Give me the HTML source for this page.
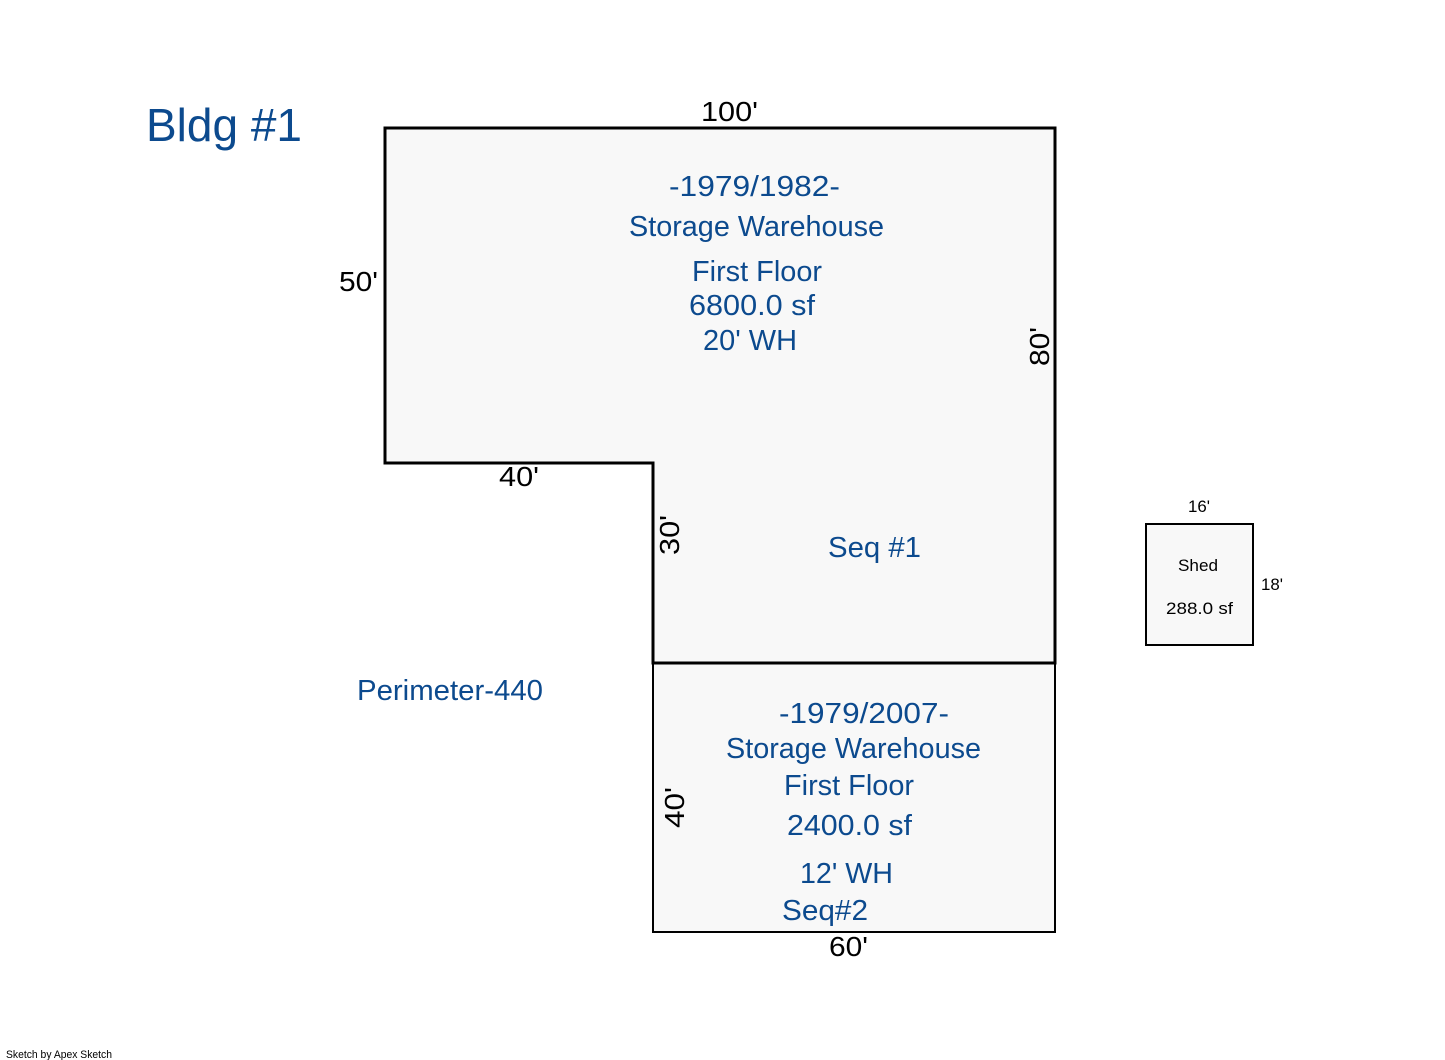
<!DOCTYPE html>
<html>
<head>
<meta charset="utf-8">
<style>
  html,body{margin:0;padding:0;background:#fff;}
  svg{display:block;}
  text{font-family:"Liberation Sans","DejaVu Sans",sans-serif;}
  .b{fill:#0c4a8e;font-size:29px;}
  .k{fill:#000;font-size:28px;}
  .s{fill:#000;font-size:17px;}
</style>
</head>
<body>
<svg width="1445" height="1060" viewBox="0 0 1445 1060" xmlns="http://www.w3.org/2000/svg">
  <rect x="0" y="0" width="1445" height="1060" fill="#fff"/>

  <!-- Main polygon -->
  <path d="M385 128 L1055 128 L1055 663 L653 663 L653 463 L385 463 Z" fill="#f8f8f8" stroke="#000" stroke-width="3" stroke-linejoin="miter"/>
  <!-- Lower rect -->
  <rect x="653" y="663" width="402" height="269" fill="#f8f8f8" stroke="#000" stroke-width="2"/>
  <line x1="653" y1="663" x2="1055" y2="663" stroke="#000" stroke-width="3"/>
  <!-- Shed -->
  <rect x="1146" y="524" width="107" height="121" fill="#f8f8f8" stroke="#000" stroke-width="2"/>

  <!-- Title -->
  <text x="146" y="141" fill="#0c4a8e" font-size="46" textLength="156" lengthAdjust="spacingAndGlyphs">Bldg #1</text>

  <!-- Dimensions main -->
  <text class="k" x="701" y="121" textLength="57" lengthAdjust="spacingAndGlyphs">100'</text>
  <text class="k" x="339" y="291" textLength="39" lengthAdjust="spacingAndGlyphs">50'</text>
  <text class="k" x="499" y="486" textLength="40" lengthAdjust="spacingAndGlyphs">40'</text>
  <text class="k" transform="translate(1049 366) rotate(-90)" x="0" y="0" textLength="39" lengthAdjust="spacingAndGlyphs">80'</text>
  <text class="k" transform="translate(679 555) rotate(-90)" x="0" y="0" textLength="40" lengthAdjust="spacingAndGlyphs">30'</text>

  <!-- Main text -->
  <text class="b" x="669" y="196" textLength="171" lengthAdjust="spacingAndGlyphs">-1979/1982-</text>
  <text class="b" x="629" y="236" textLength="255" lengthAdjust="spacingAndGlyphs">Storage Warehouse</text>
  <text class="b" x="692" y="281" textLength="130" lengthAdjust="spacingAndGlyphs">First Floor</text>
  <text class="b" x="689" y="315" textLength="126" lengthAdjust="spacingAndGlyphs">6800.0 sf</text>
  <text class="b" x="703" y="350" textLength="94" lengthAdjust="spacingAndGlyphs">20' WH</text>
  <text class="b" x="828" y="557" textLength="93" lengthAdjust="spacingAndGlyphs">Seq #1</text>
  <text class="b" x="357" y="700" textLength="186" lengthAdjust="spacingAndGlyphs">Perimeter-440</text>

  <!-- Lower text -->
  <text class="b" x="779" y="723" textLength="170" lengthAdjust="spacingAndGlyphs">-1979/2007-</text>
  <text class="b" x="726" y="758" textLength="255" lengthAdjust="spacingAndGlyphs">Storage Warehouse</text>
  <text class="b" x="784" y="795" textLength="130" lengthAdjust="spacingAndGlyphs">First Floor</text>
  <text class="b" x="787" y="835" textLength="125" lengthAdjust="spacingAndGlyphs">2400.0 sf</text>
  <text class="b" x="800" y="883" textLength="93" lengthAdjust="spacingAndGlyphs">12' WH</text>
  <text class="b" x="782" y="920" textLength="86" lengthAdjust="spacingAndGlyphs">Seq#2</text>
  <text class="k" x="829" y="956" textLength="39" lengthAdjust="spacingAndGlyphs">60'</text>
  <text class="k" transform="translate(684 828) rotate(-90)" x="0" y="0" textLength="41" lengthAdjust="spacingAndGlyphs">40'</text>

  <!-- Shed text -->
  <text class="s" x="1188" y="512" textLength="22" lengthAdjust="spacingAndGlyphs">16'</text>
  <text class="s" x="1178" y="571" textLength="40" lengthAdjust="spacingAndGlyphs">Shed</text>
  <text class="s" x="1166" y="614" textLength="67" lengthAdjust="spacingAndGlyphs">288.0 sf</text>
  <text class="s" x="1261" y="590" textLength="22" lengthAdjust="spacingAndGlyphs">18'</text>

  <!-- Footer -->
  <text x="6" y="1058" fill="#000" font-size="11" textLength="106" lengthAdjust="spacingAndGlyphs">Sketch by Apex Sketch</text>
</svg>
</body>
</html>
